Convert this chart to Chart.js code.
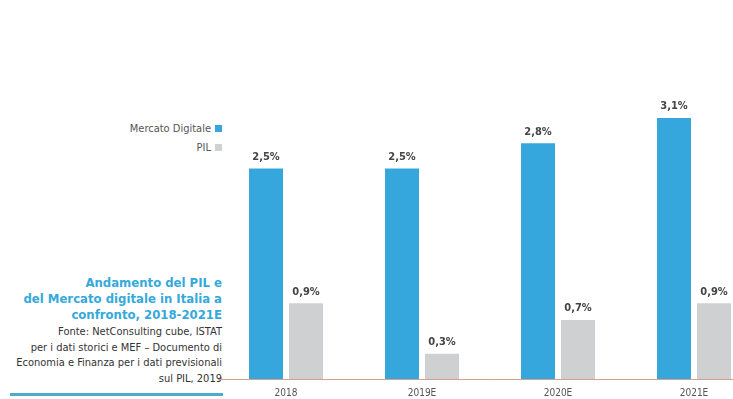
<!DOCTYPE html>
<html>
<head>
<meta charset="utf-8">
<script src="https://cdn.jsdelivr.net/npm/chart.js@4.4.1/dist/chart.umd.min.js"></script>
<style>
  html, body { margin: 0; padding: 0; background: #fff; width: 733px; height: 399px; overflow: hidden; }
  body { position: relative; font-family: "DejaVu Sans Condensed", "DejaVu Sans", sans-serif; font-stretch: condensed; }
  .cft { position: absolute; left: 218px; top: 0; width: 544px; height: 407px; }
  #legend { position: absolute; right: 511px; top: 119px; text-align: right; font-size: 11px; color: #555; line-height: 19px; }
  #legend span.box { display: inline-block; width: 7px; height: 7px; margin-left: 4px; vertical-align: 0px; }
  #titolo { position: absolute; right: 511px; top: 275px; text-align: right; width: 240px; }
  #titolo .t { color: #35a9dc; font-weight: bold; font-size: 13px; line-height: 16px; }
  #titolo .s { color: #333; font-size: 11px; line-height: 15.5px; margin-top: 1px; }
  #riga { position: absolute; left: 10px; top: 393px; width: 213px; height: 3px; background: #4aaec8; }
</style>
</head>
<body>
<div id="legend"></div>
<div id="titolo">
  <div class="t">Andamento del PIL e<br>del Mercato digitale in Italia a<br>confronto, 2018-2021E</div>
  <div class="s">Fonte: NetConsulting cube, ISTAT<br>per i dati storici e MEF – Documento di<br>Economia e Finanza per i dati previsionali<br>sul PIL, 2019</div>
</div>
<div id="riga"></div>
<div class="cft"><canvas id="myChart" width="544" height="407"></canvas></div>
<script>
let anni = ['2018', '2019E', '2020E', '2021E'];
let mercatoDigitale = [2.5, 2.5, 2.8, 3.1];
let pil = [0.9, 0.3, 0.7, 0.9];
let nomiSerie = ['Mercato Digitale', 'PIL'];
let colori = ['#35a7dd', '#cfd0d1'];
let fontStretto = '"DejaVu Sans Condensed", "DejaVu Sans", sans-serif';

// legenda a sinistra: testo poi quadratino
let legend = document.getElementById('legend');
nomiSerie.forEach((n, i) => {
  legend.innerHTML += `<div>${n}<span class="box" style="background:${colori[i]}"></span></div>`;
});

// etichette sopra le barre
const valoriSopra = {
  id: 'valoriSopra',
  afterDatasetsDraw(chart) {
    let ctx = chart.ctx;
    ctx.save();
    ctx.font = 'bold 11px ' + fontStretto;
    ctx.fillStyle = '#444';
    ctx.textAlign = 'center';
    ctx.textBaseline = 'bottom';
    chart.data.datasets.forEach((ds, i) => {
      chart.getDatasetMeta(i).data.forEach((bar, j) => {
        let txt = ds.data[j].toFixed(1).replace('.', ',') + '%';
        ctx.fillText(txt, bar.x, bar.y - 6);
      });
    });
    ctx.restore();
  }
};

let ctx = document.getElementById('myChart').getContext('2d');
let myChart = new Chart(ctx, {
  type: 'bar',
  data: {
    labels: anni,
    datasets: [
      { label: nomiSerie[0], data: mercatoDigitale, backgroundColor: colori[0] },
      { label: nomiSerie[1], data: pil, backgroundColor: colori[1] }
    ]
  },
  options: {
    responsive: false,
    animation: false,
    layout: { padding: { top: 0, bottom: 0, left: 0, right: 0 } },
    plugins: { legend: { display: false }, tooltip: { enabled: false } },
    datasets: { bar: { categoryPercentage: 0.588, barPercentage: 0.85 } },
    scales: {
      x: {
        grid: { display: false, drawTicks: false },
        border: { display: true, color: '#d99f8c', dash: [2, 2], width: 1 },
        ticks: { color: '#555', padding: 8, font: { size: 10, family: fontStretto } }
      },
      y: { display: false, min: 0, max: 4.5 }
    }
  },
  plugins: [valoriSopra]
});
</script>
</body>
</html>
